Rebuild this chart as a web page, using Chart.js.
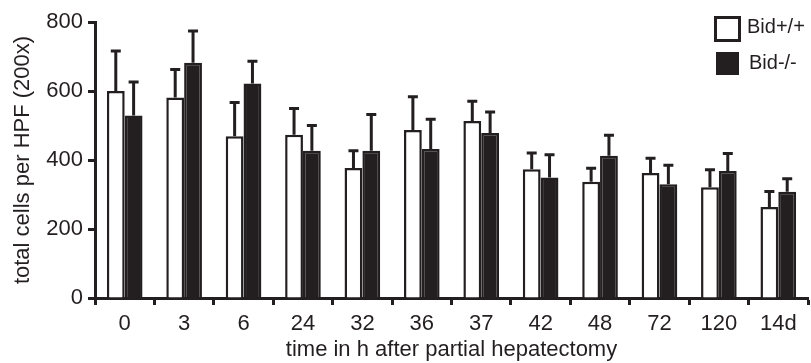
<!DOCTYPE html>
<html>
<head>
<meta charset="utf-8">
<script src="https://cdn.jsdelivr.net/npm/chart.js@4"></script>
<style>
  body { margin: 0; background: #fff; }
  #wrap { position: relative; width: 811px; height: 363px; }
  .leg { position: absolute; font-family: "Liberation Sans", Arial, sans-serif; font-size: 20px; color: #231f20; line-height: 1; }
  .box { position: absolute; box-sizing: border-box; }
</style>
</head>
<body>
<div id="wrap">
  <canvas id="chart" width="811" height="363"></canvas>
  <div class="box" style="left:714px;top:16px;width:27px;height:26px;border:3px solid #231f20;background:#fff"></div>
  <div class="leg" style="left:747px;top:16px">Bid+/+</div>
  <div class="box" style="left:716px;top:52px;width:23px;height:23px;background:#231f20"></div>
  <div class="leg" style="left:749px;top:52px">Bid-/-</div>
</div>
<script>
// ============================= data

const categories = ['0', '3', '6', '24', '32', '36', '37', '42', '48', '72', '120', '14d']
const wildType = [600, 581, 469, 473, 377, 487, 513, 373, 337, 362, 321, 264]     // Bid+/+
const wildTypeErr = [116, 81, 98, 76, 50, 96, 57, 47, 39, 43, 51, 45]
const knockout = [529, 682, 622, 427, 427, 432, 478, 349, 412, 330, 368, 308]     // Bid-/-
const knockoutErr = [97, 92, 64, 73, 105, 86, 61, 66, 60, 55, 51, 38]
const yTicks = [0, 200, 400, 600, 800]

const ink = '#231f20'
const font = { family: '"Liberation Sans", Arial, sans-serif', size: 22 }

// ============================= error bars (upward only, capped)

const errorBars = {
    id: 'errorBars',
    afterDatasetsDraw(chart) {
        const ctx = chart.ctx
        const y = chart.scales.y
        ctx.save()
        ctx.strokeStyle = ink
        ctx.lineWidth = 3
        chart.data.datasets.forEach((ds, i) => {
            chart.getDatasetMeta(i).data.forEach((bar, j) => {
                const top = y.getPixelForValue(ds.data[j] + ds.errors[j])
                ctx.beginPath()
                ctx.moveTo(bar.x, bar.y)
                ctx.lineTo(bar.x, top)
                ctx.moveTo(bar.x - 5, top)
                ctx.lineTo(bar.x + 5, top)
                ctx.stroke()
            })
        })
        ctx.restore()
    }
}

new Chart(document.getElementById('chart'), {
    type: 'bar',
    data: {
        labels: categories,
        datasets: [
            { label: 'Bid+/+', data: wildType, errors: wildTypeErr, backgroundColor: '#fff', borderColor: ink, borderWidth: 2.5 },
            { label: 'Bid-/-', data: knockout, errors: knockoutErr, backgroundColor: ink, borderColor: ink, borderWidth: 2.5 }
        ]
    },
    options: {
        responsive: false,
        animation: false,
        layout: { padding: { top: 22, right: 3, left: 0, bottom: 0 } },
        datasets: { bar: { categoryPercentage: 0.6, barPercentage: 1 } },
        plugins: { legend: { display: false }, tooltip: { enabled: false } },
        scales: {
            x: {
                grid: { offset: true, drawOnChartArea: false, color: ink, tickLength: 7, tickWidth: 3 },
                border: { color: ink, width: 3 },
                ticks: { color: ink, font: font, padding: 6 },
                title: { display: true, text: 'time in h after partial hepatectomy', color: ink, font: font, padding: 0 },
                afterFit: s => { s.height = 65 }
            },
            y: {
                min: 0, max: 800,
                afterBuildTicks: s => { s.ticks = yTicks.map(v => ({ value: v })) },
                grid: { drawOnChartArea: false, color: ink, tickLength: 7, tickWidth: 3 },
                border: { color: ink, width: 3 },
                ticks: { color: ink, font: font, padding: 5 },
                title: { display: true, text: 'total cells per HPF (200x)', color: ink, font: font, padding: { top: 10, bottom: 0 } },
                afterFit: s => { s.width = 95 }
            }
        }
    },
    plugins: [errorBars]
})
</script>
</body>
</html>
